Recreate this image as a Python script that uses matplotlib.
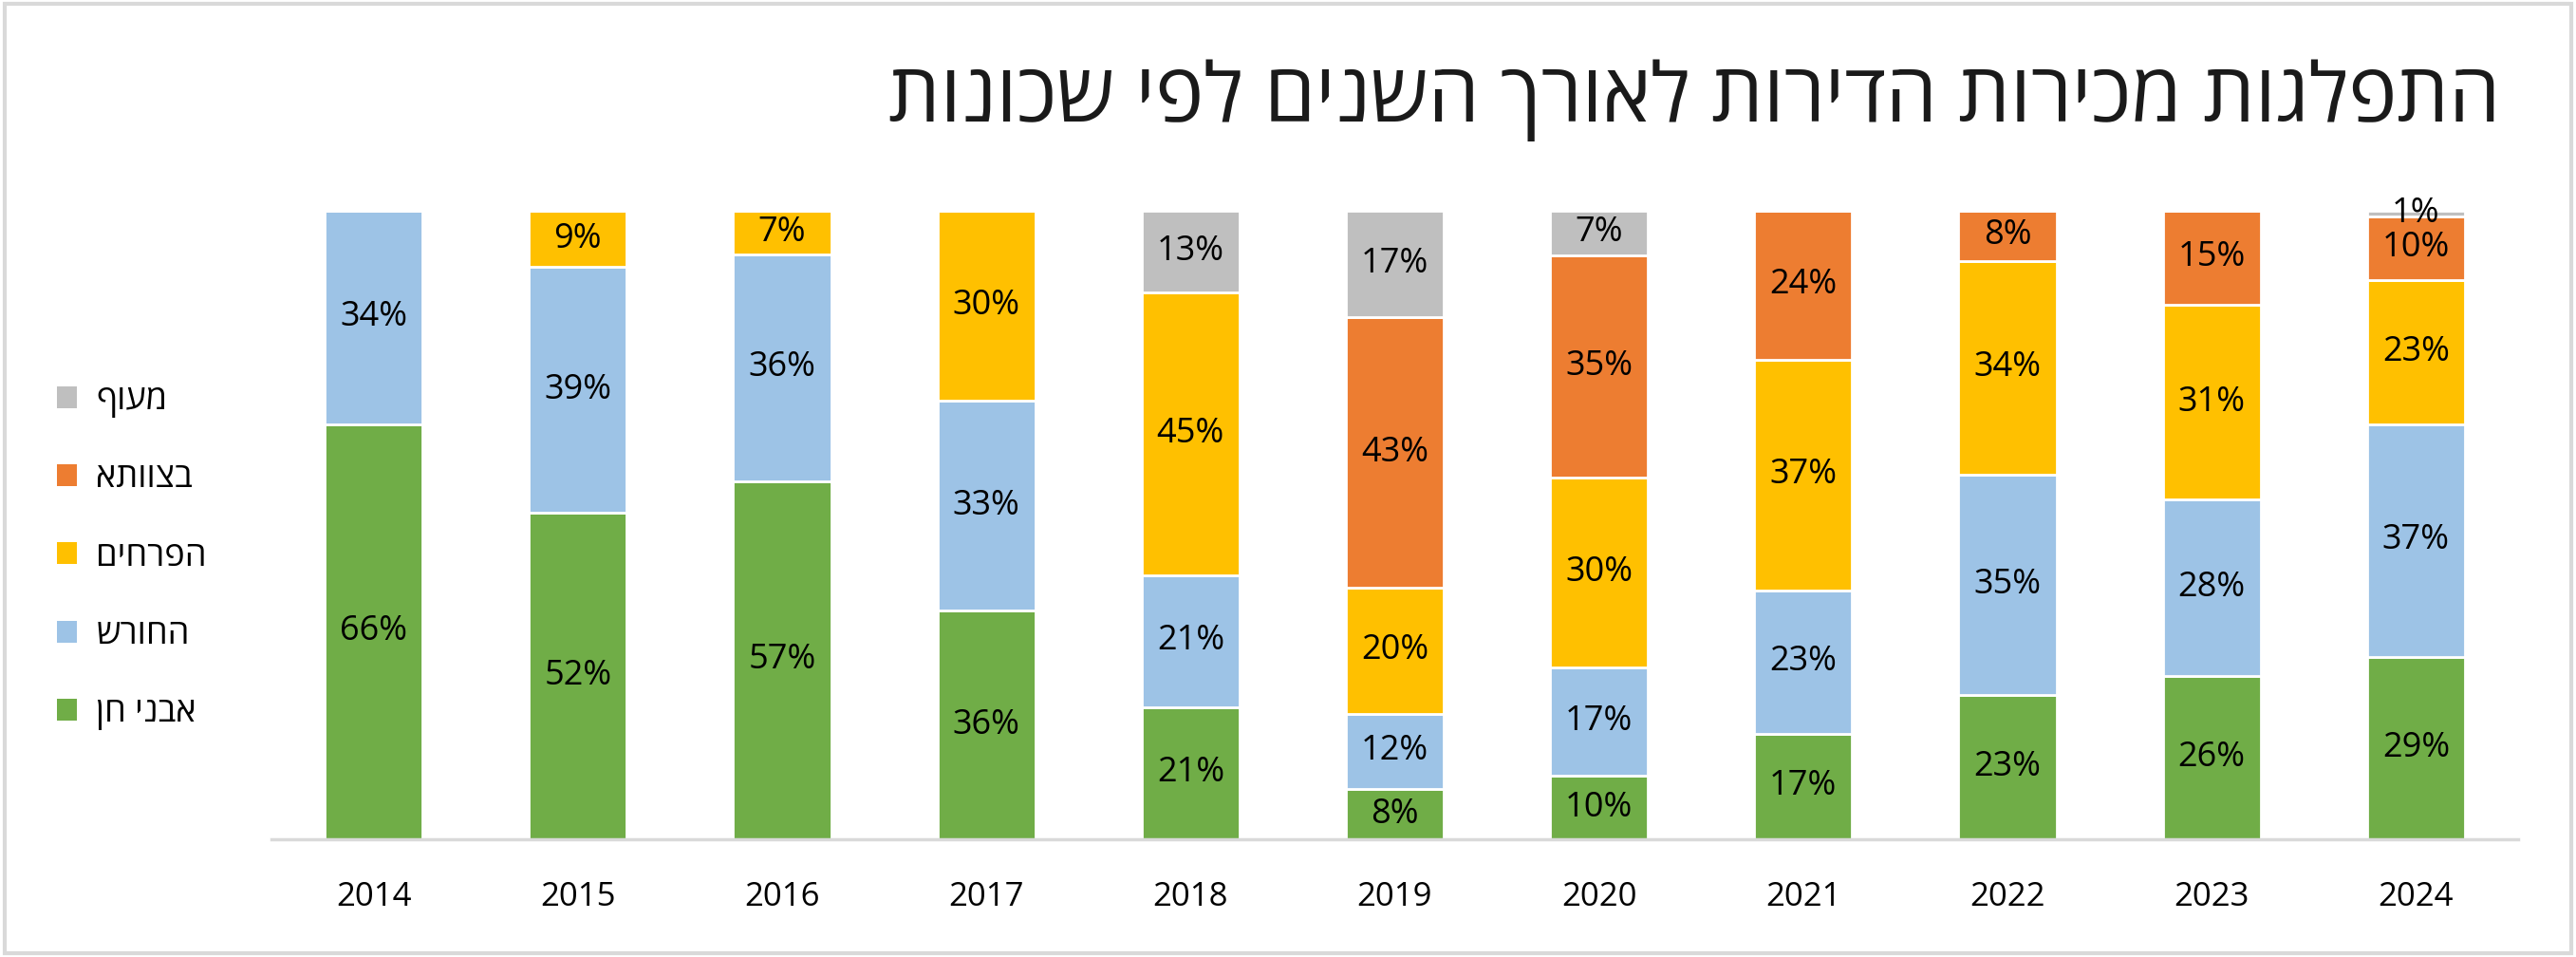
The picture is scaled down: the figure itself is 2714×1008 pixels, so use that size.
import matplotlib
matplotlib.use("Agg")
import matplotlib.pyplot as plt
from matplotlib.patches import Patch, Rectangle
import numpy as np

plt.rcParams['font.family'] = ['Open Sans', 'DejaVu Sans']

# data (percent per neighbourhood, bottom to top)
years = ['2014', '2015', '2016', '2017', '2018', '2019', '2020', '2021', '2022', '2023', '2024']
series_names = ['אבני חן', 'החורש', 'הפרחים', 'בצוותא', 'מעוף']
avnei_chen = [66, 52, 57, 36, 21, 8, 10, 17, 23, 26, 29]
hachoresh = [34, 39, 36, 33, 21, 12, 17, 23, 35, 28, 37]
haprachim = [0, 9, 7, 30, 45, 20, 30, 37, 34, 31, 23]
betzavta = [0, 0, 0, 0, 0, 43, 35, 24, 8, 15, 10]
maof = [0, 0, 0, 0, 13, 17, 7, 0, 0, 0, 1]
colors = ['#70AD47', '#9DC3E6', '#FFC000', '#ED7D31', '#BFBFBF']
title = 'התפלגות מכירות הדירות לאורך השנים לפי שכונות'


def rtl(s):
    # matplotlib draws left to right, so flip Hebrew into visual order
    return s[::-1]


values = np.array([avnei_chen, hachoresh, haprachim, betzavta, maof], dtype=float)
totals = values.sum(axis=0)
shares = values / totals  # 100% stacked, like the original chart

fig = plt.figure(figsize=(27.14, 10.08), dpi=100)
ax = fig.add_axes([0.1054, 0.123, 0.8721, 0.657])

x = np.arange(len(years))
bottom = np.zeros(len(years))
for i, name in enumerate(series_names):
    ax.bar(x, shares[i], 0.48, bottom=bottom, color=colors[i],
           edgecolor='white', linewidth=2, label=rtl(name), zorder=2)
    for j in range(len(years)):
        if values[i, j] > 0:
            ax.text(x[j], bottom[j] + shares[i, j] / 2, f'{int(values[i, j])}%',
                    ha='center', va='center', fontsize=26, color='black', zorder=3)
    bottom += shares[i]

ax.set_xlim(-0.5, len(years) - 0.5)
ax.set_ylim(0, 1)
ax.set_xticks(x)
ax.set_xticklabels(years, fontsize=25)
ax.tick_params(axis='x', length=0, pad=32)
ax.set_yticks([])
for side in ['top', 'right', 'left']:
    ax.spines[side].set_visible(False)
ax.spines['bottom'].set_color('#D9D9D9')
ax.spines['bottom'].set_linewidth(2.5)

# legend on the left, top item is the last series
handles = [Patch(facecolor=colors[i], label=rtl(series_names[i])) for i in range(len(series_names))][::-1]
fig.legend(handles=handles, loc='center left', bbox_to_anchor=(0.022, 0.418),
           frameon=False, fontsize=26, handlelength=0.6, handleheight=0.6,
           handletextpad=0.55, labelspacing=1.28, borderpad=0, borderaxespad=0)

fig.text(0.9705, 0.895, rtl(title), ha='right', va='center', fontsize=62, color='#1a1a1a')

# thin grey frame round the whole picture
fig.patches.append(Rectangle((0.002, 0.004), 0.996, 0.992, transform=fig.transFigure,
                             fill=False, edgecolor='#D9D9D9', linewidth=3))

fig.savefig('out.png', dpi=100, facecolor='white')
